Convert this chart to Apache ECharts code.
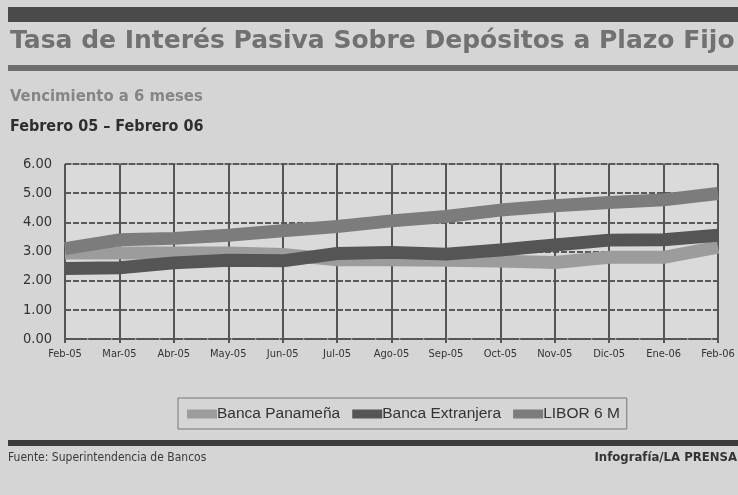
<!DOCTYPE html>
<html><head><meta charset="utf-8">
<script src="https://cdn.jsdelivr.net/npm/echarts@6/dist/echarts.min.js"></script>
<style>html,body{margin:0;padding:0;background:#d5d5d5}#c{width:738px;height:495px}</style>
</head><body><div id="c"></div>
<script>
const categories = ['Feb-05','Mar-05','Abr-05','May-05','Jun-05','Jul-05','Ago-05','Sep-05','Oct-05','Nov-05','Dic-05','Ene-06','Feb-06'];
const bancaPanamena = [2.95, 2.95, 2.95, 2.95, 2.9, 2.72, 2.72, 2.7, 2.67, 2.62, 2.8, 2.8, 3.15];
const bancaExtranjera = [2.42, 2.44, 2.61, 2.7, 2.68, 2.93, 2.97, 2.91, 3.05, 3.22, 3.39, 3.4, 3.56];
const libor6M = [3.1, 3.4, 3.45, 3.56, 3.71, 3.86, 4.05, 4.2, 4.42, 4.57, 4.68, 4.77, 4.99];
const yTicks = [0, 1, 2, 3, 4, 5, 6];

const chart = echarts.init(document.getElementById('c'));
const cond = '"DejaVu Sans Condensed", "Liberation Sans Narrow", sans-serif';
const lineSeries = (name, data, color) => ({
  name, type: 'line', data, symbol: 'none', smooth: false,
  lineStyle: { width: 13, color, cap: 'butt', join: 'round' },
  itemStyle: { color }
});
chart.setOption({
  backgroundColor: '#d5d5d5',
  animation: false,
  title: [
    { text: 'Tasa de Interés Pasiva Sobre Depósitos a Plazo Fijo', left: 10, top: 29, padding: 0,
      textStyle: { fontFamily: '"DejaVu Sans", sans-serif', fontWeight: 'bold', fontSize: 25, color: '#717171' } },
    { text: 'Vencimiento a 6 meses', left: 10, top: 88, padding: 0,
      textStyle: { fontFamily: cond, fontWeight: 'bold', fontSize: 16.5, color: '#858585' } },
    { text: 'Febrero 05 – Febrero 06', left: 10, top: 119, padding: 0,
      textStyle: { fontFamily: cond, fontWeight: 'bold', fontSize: 16, color: '#2e2e2e' } },
    { text: 'Fuente: Superintendencia de Bancos', left: 8, top: 452, padding: 0,
      textStyle: { fontFamily: cond, fontWeight: 'normal', fontSize: 12, color: '#3a3a3a' } },
    { text: 'Infografía/LA PRENSA', right: 1, top: 451, padding: 0,
      textStyle: { fontFamily: cond, fontWeight: 'bold', fontSize: 13, color: '#333' } }
  ],
  graphic: [
    { type: 'rect', shape: { x: 8, y: 7, width: 730, height: 15 }, style: { fill: '#4a4a4a' } },
    { type: 'rect', shape: { x: 8, y: 65, width: 730, height: 6 }, style: { fill: '#6e6e6e' } },
    { type: 'rect', shape: { x: 8, y: 440, width: 730, height: 6 }, style: { fill: '#3c3c3c' } },
    { type: 'rect', shape: { x: 65, y: 164, width: 653, height: 175 }, style: { fill: '#dadada' }, z: -1 }
  ],
  legend: {
    data: ['Banca Panameña', 'Banca Extranjera', 'LIBOR 6 M'],
    left: 178, top: 398,
    padding: [8, 7, 7, 9],
    borderColor: '#777', borderWidth: 1,
    icon: 'rect', itemWidth: 30, itemHeight: 9, itemGap: 12,
    textStyle: { fontFamily: '"Liberation Sans", Arial, sans-serif', fontSize: 15.5, color: '#333', padding: [0, 0, 0, -5] }
  },
  grid: { left: 65, right: 20, top: 164, bottom: 156, show: true, borderColor: '#666', borderWidth: 1 },
  xAxis: {
    type: 'category', data: categories, boundaryGap: false,
    axisLine: { lineStyle: { color: '#555', width: 2, type: 'dashed' } },
    axisTick: { show: true, length: 4, lineStyle: { color: '#555', width: 2 } },
    axisLabel: { fontFamily: cond, fontSize: 11, color: '#333', margin: 10 },
    splitLine: { show: true, lineStyle: { color: '#555', width: 2 } }
  },
  yAxis: {
    type: 'value', min: yTicks[0], max: yTicks[yTicks.length - 1], interval: 1,
    axisLine: { show: false }, axisTick: { show: false },
    axisLabel: { fontFamily: cond, fontSize: 14.5, color: '#333', margin: 13, formatter: v => v.toFixed(2) },
    splitLine: { show: true, lineStyle: { color: '#5a5a5a', width: 2, type: [6, 2] } }
  },
  series: [
    lineSeries('Banca Panameña', bancaPanamena, '#9c9c9c'),
    lineSeries('Banca Extranjera', bancaExtranjera, '#555555'),
    lineSeries('LIBOR 6 M', libor6M, '#7c7c7c')
  ]
});
</script></body></html>
